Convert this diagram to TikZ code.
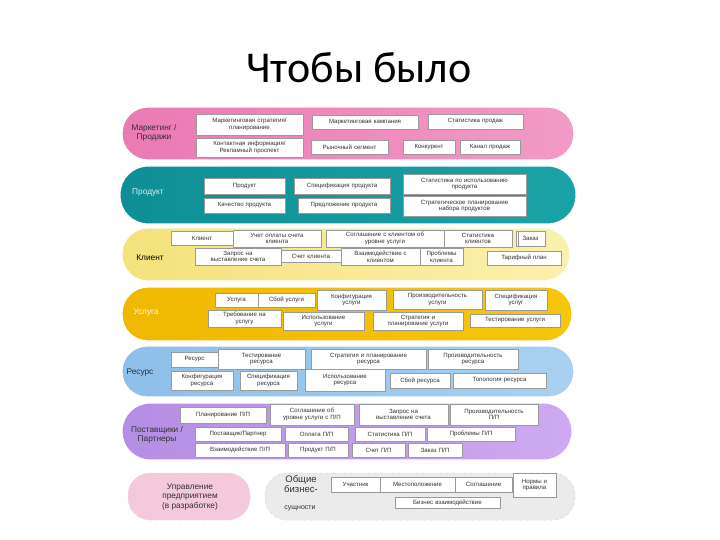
\documentclass[tikz,border=0pt]{standalone}
\usepackage{fontspec}
\setmainfont{Liberation Sans}
\newfontfamily\titlefont{Carlito}
\usetikzlibrary{shadings}
\definecolor{pinkband}{HTML}{F29BC6}
\definecolor{pinkdark}{HTML}{EA7AB2}
\definecolor{tealband}{HTML}{1AA3A6}
\definecolor{tealdark}{HTML}{0E8F95}
\definecolor{ylband}{HTML}{FBF0AE}
\definecolor{yldark}{HTML}{F4E27C}
\definecolor{goldband}{HTML}{F6C60A}
\definecolor{golddark}{HTML}{F0B800}
\definecolor{blueband}{HTML}{A9D0F0}
\definecolor{bluedark}{HTML}{8EBFEA}
\definecolor{purpband}{HTML}{CDAAF0}
\definecolor{purpdark}{HTML}{B48EE3}
\definecolor{entpink}{HTML}{F5C9DB}
\definecolor{comgray}{HTML}{EBEBEB}
\definecolor{boxline}{HTML}{9A9A9A}
\definecolor{txt}{HTML}{303030}
\tikzset{
  band/.style={rounded corners=#1, draw=white, line width=1.2pt},
  bx/.style={draw=boxline, line width=0.4pt, fill=white, font=\fontsize{6.1}{6.6}\selectfont, text=txt, align=center, inner sep=0.2pt},
  lbl/.style={font=\fontsize{8.3}{9.3}\selectfont, text=txt, align=center},
}
% \bxnode{name}{x1}{y1}{x2}{y2}{text}  (pixel coords, y down)
\newcommand\bxnode[6]{\node[bx, minimum width={(#4-#2)*1pt}, minimum height={(#5-#3)*1pt}, text width={(#4-#2-1)*1pt}] (#1) at ({(#2+#4)/2},{(#3+#5)/2}) {#6};}
\begin{document}
\begin{tikzpicture}[x=1pt,y=-1pt]
\useasboundingbox (0,0) rectangle (720,540);
\fill[white] (0,0) rectangle (720,540);
\node[font=\titlefont\fontsize{44}{50}\selectfont, text=black] (title) at (359,68) {Чтобы было};

% bands
\shade[band=26pt, left color=pinkdark, right color=pinkband] (122,107) rectangle (574,160);
\shade[band=28pt, left color=tealdark, right color=tealband] (120,166) rectangle (576,224);
\shade[band=26pt, left color=yldark, right color=ylband] (122,228) rectangle (570,281);
\shade[band=26pt, left color=golddark, right color=goldband] (122,287) rectangle (572,341);
\shade[band=25pt, left color=bluedark, right color=blueband] (122,346) rectangle (574,397);
\shade[band=28pt, left color=purpdark, right color=purpband] (122,403) rectangle (572,460);
\fill[entpink, rounded corners=22pt] (128,473) rectangle (250,520);
\draw[white!75!gray, dashed, line width=0.5pt, rounded corners=22pt] (128,473) rectangle (250,520);
\fill[comgray, rounded corners=22pt] (265,473) rectangle (575,520);
\draw[white!70!gray, dashed, line width=0.5pt, rounded corners=22pt] (265,473) rectangle (575,520);

% labels
\node[lbl] (l1) at (154,133) {Маркетинг /\\Продажи};
\node[lbl, text=white!85!tealdark] (l2) at (148,193) {Продукт};
\node[lbl, text=black] (l3) at (150,258) {Клиент};
\node[lbl, text=white!90!golddark] (l4) at (146,313) {Услуга};
\node[lbl] (l5) at (140,373) {Ресурс};
\node[lbl] (l6) at (157,435) {Поставщики /\\Партнеры};
\node[lbl] (l7) at (190,497) {Управление\\предприятием\\(в разработке)};
\node[lbl, font=\fontsize{9.5}{10.5}\selectfont] (l8) at (301,484) {Общие\\бизнес-};
\node[lbl, font=\fontsize{7}{8}\selectfont] (l9) at (300,508) {сущности};

% band 1
\bxnode{m1}{196}{114}{303}{135}{Маркетинговая стратегия/\\планирование}
\bxnode{m2}{312}{115}{418}{129}{Маркетинговая кампания}
\bxnode{m3}{428}{114}{523}{129}{Статистика продаж}
\bxnode{m4}{196}{138}{303}{157}{Контактная информация/\\Рекламный проспект}
\bxnode{m5}{311}{140}{388}{154}{Рыночный сегмент}
\bxnode{m6}{403}{140}{455}{154}{Конкурент}
\bxnode{m7}{460}{140}{520}{154}{Канал продаж}

% band 2
\bxnode{p1}{204}{178}{285}{194}{Продукт}
\bxnode{p2}{294}{178}{390}{194}{Спецификация продукта}
\bxnode{p3}{403}{174}{526}{194}{Статистика по использованию\\продукта}
\bxnode{p4}{204}{198}{285}{213}{Качество продукта}
\bxnode{p5}{298}{198}{390}{213}{Предложение продукта}
\bxnode{p6}{403}{196}{526}{216}{Стратегическое планирование\\набора продуктов}

% band 3
\bxnode{k1}{171}{231}{233}{245}{Клиент}
\bxnode{k2}{233}{230}{321}{247}{Учет оплаты счета\\клиента}
\bxnode{k3}{326}{230}{444}{247}{Соглашение с клиентом об\\уровне услуги}
\bxnode{k4}{444}{230}{512}{247}{Статистика\\клиентов}
\bxnode{k5}{516}{231}{545}{246}{Заказ}
\draw[boxline, line width=0.4pt] (518.5,231) -- (518.5,246);
\bxnode{k6}{195}{248}{281}{265}{Запрос на\\выставление счета}
\bxnode{k7}{281}{250}{341}{262}{Счет клиента}
\bxnode{k8}{341}{248}{420}{265}{Взаимодействие с\\клиентом}
\bxnode{k9}{420}{248}{463}{265}{Проблемы\\клиента}
\bxnode{k10}{487}{251}{561}{265}{Тарифный план}

% band 4
\bxnode{u1}{215}{293}{258}{307}{Услуга}
\bxnode{u2}{258}{293}{315}{307}{Сбой услуги}
\bxnode{u3}{317}{290}{386}{310}{Конфигурация\\услуги}
\bxnode{u4}{393}{290}{482}{309}{Производительность\\услуги}
\bxnode{u5}{485}{290}{547}{310}{Спецификация\\услуг}
\bxnode{u6}{208}{310}{281}{327}{Требование на\\услугу}
\bxnode{u7}{283}{312}{364}{330}{Использование\\услуги}
\bxnode{u8}{373}{312}{463}{330}{Стратегия и\\планирование услуги}
\bxnode{u9}{470}{314}{560}{327}{Тестирование услуги}

% band 5
\bxnode{r1}{171}{352}{218}{367}{Ресурс}
\bxnode{r2}{218}{349}{305}{369}{Тестирование\\ресурса}
\bxnode{r3}{311}{349}{426}{369}{Стратегия и планирование\\ресурса}
\bxnode{r4}{428}{349}{518}{369}{Производительность\\ресурса}
\bxnode{r5}{171}{371}{233}{390}{Конфигурация\\ресурса}
\bxnode{r6}{240}{371}{297}{390}{Спецификация\\ресурса}
\bxnode{r7}{305}{369}{385}{391}{Использование\\ресурса}
\bxnode{r8}{390}{373}{450}{388}{Сбой ресурса}
\bxnode{r9}{453}{373}{546}{388}{Топология ресурса}

% band 6
\bxnode{s1}{180}{407}{266}{423}{Планирование П/П}
\bxnode{s2}{270}{404}{354}{425}{Соглашение об\\уровне услуги с П/П}
\bxnode{s3}{359}{404}{448}{425}{Запрос на\\выставление счета}
\bxnode{s4}{450}{404}{538}{425}{Производительность\\П/П}
\bxnode{s5}{195}{427}{281}{441}{Поставщик/Партнер}
\bxnode{s6}{285}{427}{348}{441}{Оплата П/П}
\bxnode{s7}{355}{427}{425}{441}{Статистика П/П}
\bxnode{s8}{427}{427}{515}{441}{Проблемы П/П}
\bxnode{s9}{195}{443}{285}{457}{Взаимодействие П/П}
\bxnode{s10}{288}{443}{348}{457}{Продукт П/П}
\bxnode{s11}{352}{443}{405}{457}{Счет П/П}
\bxnode{s12}{408}{443}{462}{457}{Заказ П/П}

% band 7
\bxnode{c1}{331}{477}{380}{492}{Участник}
\bxnode{c2}{380}{477}{455}{492}{Местоположение}
\bxnode{c3}{455}{477}{512}{492}{Соглашение}
\bxnode{c4}{513}{473}{556}{497}{Нормы и\\правила}
\bxnode{c5}{395}{497}{500}{508}{Бизнес взаимодействие}
\end{tikzpicture}
\end{document}
